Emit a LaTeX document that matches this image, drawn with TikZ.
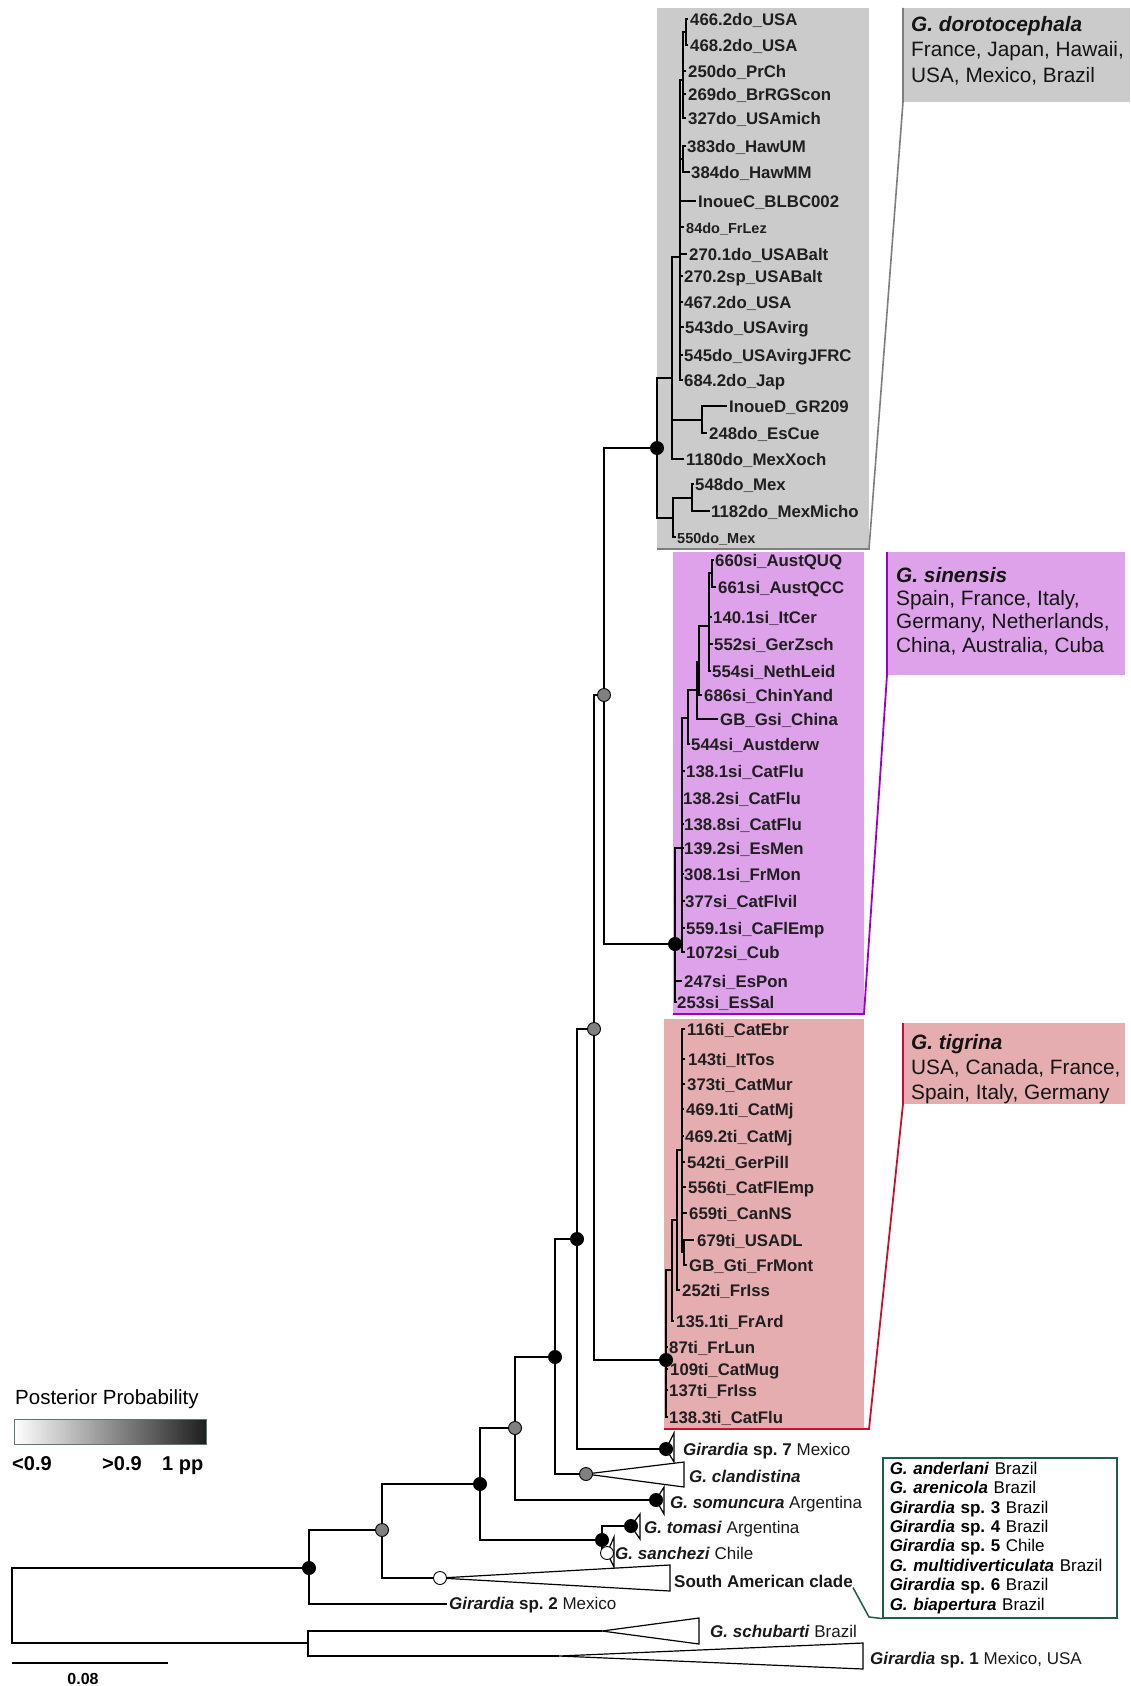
\documentclass[tikz,border=0pt]{standalone}
\usepackage{fontspec}
\setmainfont{Liberation Sans}
\frenchspacing
\tikzset{>=stealth}
\definecolor{dorofill}{HTML}{CBCBCB}
\definecolor{doroline}{HTML}{7E7E7E}
\definecolor{sinfill}{HTML}{DDA2EA}
\definecolor{sinline}{HTML}{9B00C9}
\definecolor{tigfill}{HTML}{E6ADB1}
\definecolor{tigline}{HTML}{C8102E}
\definecolor{samline}{HTML}{1B5E4B}
\definecolor{legendedge}{HTML}{5F7571}
\tikzset{
  branch/.style={line width=1.4pt, black},
  clade/.style={draw=black, fill=white, line width=1.2pt},
  leaf/.style={anchor=mid west, inner sep=0pt, yshift=-3.5pt, text=black!88,
    font=\fontsize{16.8}{19}\selectfont\bfseries},
  smallleaf/.style={leaf, font=\fontsize{14.5}{17}\selectfont\bfseries},
  taxon/.style={anchor=mid west, inner sep=0pt, yshift=-3.5pt, text=black!90,
    font=\fontsize{17}{20}\selectfont},
  head/.style={anchor=north west, inner sep=0pt, align=left, text=black!92},
  ppone/.style={circle, fill=black, inner sep=0pt, minimum size=14pt},
  pphigh/.style={circle, draw=black, fill=black!50, line width=0.9pt, inner sep=0pt, minimum size=13pt},
  pplow/.style={circle, draw=black, fill=white, line width=0.9pt, inner sep=0pt, minimum size=13pt},
  sambox/.style={draw=samline, line width=1.5pt, align=left, inner sep=0pt,
    font=\fontsize{17}{19.4}\selectfont},
  ppval/.style={anchor=mid west, inner sep=0pt, font=\fontsize{20}{24}\selectfont\bfseries}
}

\begin{document}
\begin{tikzpicture}[x=1pt,y=-1pt]
\useasboundingbox (0,0) rectangle (1130,1686);

\fill[dorofill] (657,8) rectangle (869,549);
\fill[dorofill] (903,8) rectangle (1130,102);
\fill[sinfill] (673,552) rectangle (864,1014);
\fill[sinfill] (887,552) rectangle (1125,675);
\fill[tigfill] (664,1019) rectangle (864,1429);
\fill[tigfill] (903,1023) rectangle (1125,1104);
\draw[doroline, line width=1.6pt] (903,8) -- (903,102) -- (869,549) -- (657,549);
\draw[sinline, line width=1.8pt] (887,552) -- (887,675) -- (864,1014) -- (673,1014);
\draw[tigline, line width=1.8pt] (903,1023) -- (903,1104) -- (869,1429) -- (664,1429);

\node[head, font=\fontsize{20.8}{25.5}\selectfont] (hdoro) at (911,16)
  {\textbf{\textit{G. dorotocephala}}\\France, Japan, Hawaii,\\USA, Mexico, Brazil};
\node[head, font=\fontsize{20.8}{23.3}\selectfont] (hsin) at (896,567)
  {\textbf{\textit{G. sinensis}}\\Spain, France, Italy,\\Germany, Netherlands,\\China, Australia, Cuba};
\node[head, font=\fontsize{20.8}{25}\selectfont] (htig) at (911,1034)
  {\textbf{\textit{G. tigrina}}\\USA, Canada, France,\\Spain, Italy, Germany};

\coordinate (R) at (12,1606);
\coordinate (N1) at (309,1568);
\coordinate (Nout) at (308,1643);
\coordinate (N2) at (382,1530);
\coordinate (N3) at (480,1484);
\coordinate (N4) at (515,1428);
\coordinate (N5) at (555,1357);
\coordinate (N6) at (577,1239);
\coordinate (N7) at (594,1029);
\coordinate (N8) at (604,695);
\coordinate (Nts) at (602,1540);
\coordinate (D0) at (657,448);
\coordinate (D1) at (672,378);
\coordinate (D2) at (680,257);
\coordinate (DA) at (683,80);
\coordinate (DA1) at (686,32);
\coordinate (DB) at (683,159);
\coordinate (DI) at (702,420);
\coordinate (D3) at (673,518);
\coordinate (D4) at (692,498);
\coordinate (S0) at (675,944);
\coordinate (S1) at (682,848);
\coordinate (S2) at (688,718);
\coordinate (S3) at (697,690);
\coordinate (S4) at (699,662);
\coordinate (S5) at (709,626);
\coordinate (S6) at (712,573);
\coordinate (T0) at (666,1360);
\coordinate (T1) at (672,1270);
\coordinate (T2) at (677,1220);
\coordinate (T3) at (682,1150);
\coordinate (T4) at (684,1252);
\coordinate (sp7) at (666,1449);
\coordinate (cla) at (586,1474);
\coordinate (som) at (656,1500);
\coordinate (tom) at (631,1526);
\coordinate (san) at (607,1553);
\coordinate (sac) at (440,1578);
\coordinate (sp2) at (447,1604);
\coordinate (sch) at (602,1631);
\coordinate (sp1) at (559,1656);

\foreach \a/\b in {R/N1, R/Nout, N1/N2, N1/sp2, N2/N3, N2/sac, N3/N4, N3/Nts,
    N4/N5, N4/som, N5/N6, N5/cla, N6/N7, N6/sp7, N7/N8, N7/T0, N8/D0, N8/S0,
    Nts/tom, Nts/san, Nout/sch, Nout/sp1,
    D0/D1, D0/D3, D1/D2, D1/DI, D2/DA, D2/DB, DA/DA1, D3/D4,
    S0/S1, S1/S2, S2/S3, S3/S4, S4/S5, S5/S6,
    T0/T1, T1/T2, T2/T3, T3/T4}
  \draw[branch] (\a) |- (\b);

\foreach \p/\tx/\y/\lx/\s/\lab [count=\i] in {
    DA1/688/19/690/leaf/466.2do\_USA, DA1/688/45/690/leaf/468.2do\_USA,
    DA/686/71/688/leaf/250do\_PrCh, DA/686/94/688/leaf/269do\_BrRGScon,
    DA/686/118/688/leaf/327do\_USAmich, DB/686/146/687/leaf/383do\_HawUM,
    DB/690/172/691/leaf/384do\_HawMM, D2/696/201/698/leaf/InoueC\_BLBC002,
    D2/684/227/686/smallleaf/84do\_FrLez, D2/687/254/689/leaf/270.1do\_USABalt,
    D2/683/276/684/leaf/270.2sp\_USABalt, D2/683/302/684/leaf/467.2do\_USA,
    D2/684/327/685/leaf/543do\_USAvirg, D2/683/355/684/leaf/545do\_USAvirgJFRC,
    D2/683/380/684/leaf/684.2do\_Jap, DI/727/406/729/leaf/InoueD\_GR209,
    DI/707/433/709/leaf/248do\_EsCue, D1/684/459/686/leaf/1180do\_MexXoch,
    D4/694/484/695/leaf/548do\_Mex, D4/710/511/711/leaf/1182do\_MexMicho,
    D3/676/537/677/smallleaf/550do\_Mex}{
  \coordinate (do\i) at (\tx,\y);
  \draw[branch] (\p) |- (do\i);
  \node[\s] (ldo\i) at (\lx,\y) {\lab};
}

\foreach \p/\tx/\y/\lx/\lab [count=\i] in {
    S6/714/560/715/660si\_AustQUQ, S6/716/587/718/661si\_AustQCC,
    S5/712/617/713/140.1si\_ItCer, S5/713/644/714/552si\_GerZsch,
    S5/711/671/712/554si\_NethLeid, S4/702/695/704/686si\_ChinYand,
    S3/718/719/720/GB\_Gsi\_China, S2/690/744/691/544si\_Austderw,
    S1/685/771/686/138.1si\_CatFlu, S1/683/798/683/138.2si\_CatFlu,
    S1/684/824/684/138.8si\_CatFlu, S1/684/848/684/139.2si\_EsMen,
    S1/684/874/684/308.1si\_FrMon, S1/685/901/685/377si\_CatFlvil,
    S1/685/928/686/559.1si\_CaFlEmp, S1/685/952/686/1072si\_Cub,
    S0/682/981/684/247si\_EsPon, S0/677/1002/677/253si\_EsSal}{
  \coordinate (si\i) at (\tx,\y);
  \draw[branch] (\p) |- (si\i);
  \node[leaf] (lsi\i) at (\lx,\y) {\lab};
}

\foreach \p/\tx/\y/\lx/\lab [count=\i] in {
    T3/685/1029/687/116ti\_CatEbr, T3/685/1059/688/143ti\_ItTos,
    T3/685/1084/687/373ti\_CatMur, T3/684/1109/686/469.1ti\_CatMj,
    T3/684/1136/685/469.2ti\_CatMj, T3/685/1162/687/542ti\_GerPill,
    T3/686/1187/688/556ti\_CatFlEmp, T3/687/1213/689/659ti\_CanNS,
    T4/694/1240/697/679ti\_USADL, T4/687/1265/689/GB\_Gti\_FrMont,
    T2/680/1290/682/252ti\_FrIss, T1/674/1321/676/135.1ti\_FrArd,
    T0/668/1347/669/87ti\_FrLun, T0/668/1369/670/109ti\_CatMug,
    T0/668/1390/669/137ti\_FrIss, T0/668/1417/669/138.3ti\_CatFlu}{
  \coordinate (ti\i) at (\tx,\y);
  \draw[branch] (\p) |- (ti\i);
  \node[leaf] (lti\i) at (\lx,\y) {\lab};
}

\draw[clade] (sp7) -- (674,1433) -- (674,1462) -- cycle;
\draw[clade] (cla) -- (684,1462) -- (684,1487) -- cycle;
\draw[clade] (som) -- (664,1487) -- (664,1514) -- cycle;
\draw[clade] (tom) -- (640,1514) -- (640,1539) -- cycle;
\draw[clade] (san) -- (614,1537) -- (614,1567) -- cycle;
\draw[clade] (sac) -- (670,1565) -- (670,1591) -- cycle;
\draw[clade] (sch) -- (699,1618) -- (699,1644) -- cycle;
\draw[clade] (sp1) -- (863,1643) -- (863,1669) -- cycle;

\foreach \c in {N1,N3,N5,N6,D0,S0,T0,Nts,sp7,som,tom}
  \node[ppone] (d\c) at (\c) {};
\foreach \c in {N2,N4,N7,N8,cla}
  \node[pphigh] (d\c) at (\c) {};
\foreach \c in {sac,san}
  \node[pplow] (d\c) at (\c) {};

\node[taxon] (lsp7) at (683,1449) {\textbf{\textit{Girardia} sp. 7} Mexico};
\node[taxon] (lcla) at (689,1476) {\textbf{\textit{G. clandistina}}};
\node[taxon] (lsom) at (670,1502) {\textbf{\textit{G. somuncura}} Argentina};
\node[taxon] (ltom) at (644,1527) {\textbf{\textit{G. tomasi}} Argentina};
\node[taxon] (lsan) at (615,1553) {\textbf{\textit{G. sanchezi}} Chile};
\node[taxon, font=\fontsize{17}{20}\selectfont\bfseries] (lsac) at (674,1581) {South American clade};
\node[taxon] (lsp2) at (449,1603) {\textbf{\textit{Girardia} sp. 2} Mexico};
\node[taxon] (lsch) at (710,1631) {\textbf{\textit{G. schubarti}} Brazil};
\node[taxon] (lsp1) at (870,1658) {\textbf{\textit{Girardia} sp. 1} Mexico, USA};

\node[sambox, anchor=north west, minimum width=234pt, minimum height=160pt,
  text width=220pt, inner xsep=7pt] (sam) at (882,1457)
  {\textbf{\textit{G. anderlani}} Brazil\\
   \textbf{\textit{G. arenicola}} Brazil\\
   \textbf{\textit{Girardia} sp. 3} Brazil\\
   \textbf{\textit{Girardia} sp. 4} Brazil\\
   \textbf{\textit{Girardia} sp. 5} Chile\\
   \textbf{\textit{G. multidiverticulata}} Brazil\\
   \textbf{\textit{Girardia} sp. 6} Brazil\\
   \textbf{\textit{G. biapertura}} Brazil};
\coordinate (samk) at (869,1617);
\draw[samline, line width=1.5pt] (lsac.south east) -- (samk) -- (sam.south west);

\node[anchor=mid west, inner sep=0pt, font=\fontsize{20.5}{24}\selectfont] (pptitle) at (15,1402) {Posterior Probability};
\shade[left color=white, right color=black!88] (14,1419) rectangle (206,1444);
\draw[legendedge, line width=1pt] (14,1419) rectangle (206,1444);
\node[ppval] (lv1) at (12,1468) {<0.9};
\node[ppval] (lv2) at (102,1468) {>0.9};
\node[ppval] (lv3) at (162,1468) {1 pp};

\coordinate (sb1) at (12,1663);
\coordinate (sb2) at (168,1663);
\draw[line width=1.5pt] (sb1) -- (sb2);
\node[inner sep=0pt, font=\fontsize{16}{19}\selectfont\bfseries] (sblabel) at (83,1679) {0.08};
\end{tikzpicture}
\end{document}
